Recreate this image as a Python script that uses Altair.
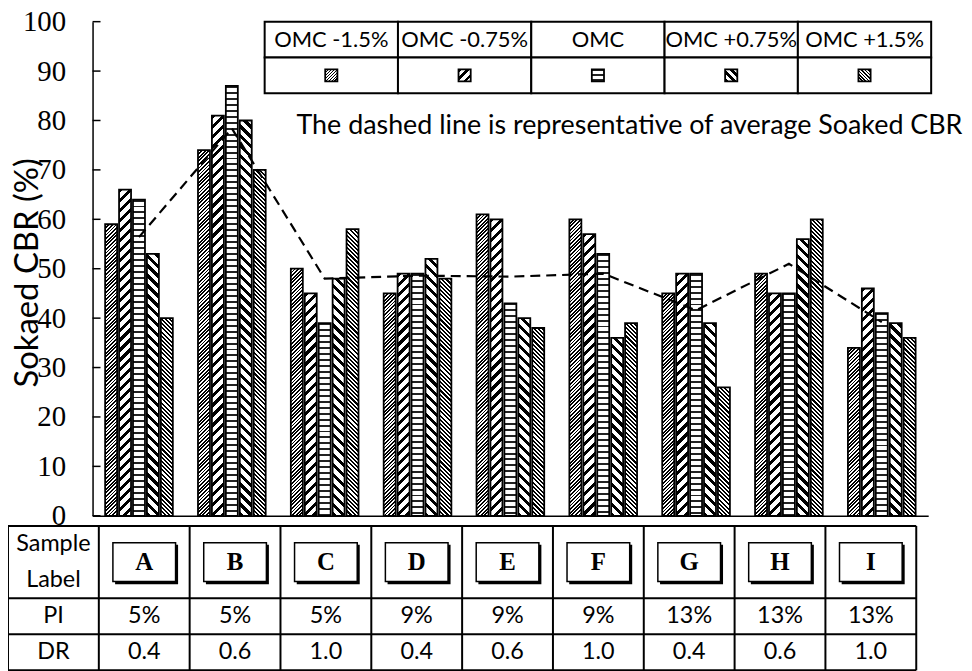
import altair as alt
import pandas as pd

# ---------------- data ----------------
samples = ["A", "B", "C", "D", "E", "F", "G", "H", "I"]
series = ["OMC -1.5%", "OMC -0.75%", "OMC", "OMC +0.75%", "OMC +1.5%"]
cbr_omc_m150 = [59, 74, 50, 45, 61, 60, 45, 49, 34]
cbr_omc_m075 = [66, 81, 45, 49, 60, 57, 49, 45, 46]
cbr_omc = [64, 87, 39, 49, 43, 53, 49, 45, 41]
cbr_omc_p075 = [53, 80, 48, 52, 40, 36, 39, 56, 39]
cbr_omc_p150 = [40, 70, 58, 48, 38, 39, 26, 60, 36]
pi_values = ["5%", "5%", "5%", "9%", "9%", "9%", "13%", "13%", "13%"]
dr_values = ["0.4", "0.6", "1.0", "0.4", "0.6", "1.0", "0.4", "0.6", "1.0"]
y_ticks = [0, 10, 20, 30, 40, 50, 60, 70, 80, 90, 100]
y_title = "Sokaed CBR (%)"
note_text = "The dashed line is representative of average Soaked CBR"
row_labels = ["Sample", "Label", "PI", "DR"]

series_values = [cbr_omc_m150, cbr_omc_m075, cbr_omc, cbr_omc_p075, cbr_omc_p150]
df = pd.DataFrame(
    [{"sample": s, "series": k, "cbr": v}
     for k, vals in zip(series, series_values) for s, v in zip(samples, vals)]
)

# ---------------- layout (pixels, relative to chart origin) ----------------
W, H = 925, 664
PLOT_X0, PLOT_X1 = 85, 925
Y_TOP, Y_BASE = 12, 508.7
TABLE_X0, TABLE_X1 = 0, 913
TABLE_Y0, TABLE_Y1 = 519, 664
LEG_X0, LEG_X1 = 258, 928
LEG_Y0, LEG_Y1 = 12, 84
PAD_IN, PAD_OUT = 0.25, 0.125
OFF_IN, OFF_OUT = 0.14, 0.07

step = (PLOT_X1 - PLOT_X0) / (len(samples) - PAD_IN + 2 * PAD_OUT)
group_w = step * (1 - PAD_IN)
off_step = group_w / (len(series) - OFF_IN + 2 * OFF_OUT)
BAR_W = off_step * (1 - OFF_IN)
PX_PER = (Y_BASE - Y_TOP) / 100.0

# hatch style per series: (direction, period px, ink fraction, ink colour)
patterns = {
    "OMC -1.5%": ("/", 3.6, 0.5, "black"),
    "OMC -0.75%": ("/", 10.0, 0.42, "black"),
    "OMC": ("=", 6.0, 0.33, "#222222"),
    "OMC +0.75%": ("\\", 10.0, 0.42, "black"),
    "OMC +1.5%": ("\\", 4.2, 0.5, "black"),
}


def hatch(direction, w, h, period, frac, ink):
    if direction in ("/", "\\"):
        k = h / w
        a = (1 + k) / (1 + k * k)
        n = (w + h) / period
        if direction == "/":
            x1, y1, x2, y2 = 0, 0, a, a * k
        else:
            x1, y1, x2, y2 = 0, 1, a, 1 - a * k
    else:
        x1, y1, x2, y2 = 0, 0, 0, 1
        n = h / period
    stops = []
    i = 0
    while i < n:
        t0 = round(i / n, 5)
        t1 = round(min((i + frac) / n, 1.0), 5)
        stops += [
            {"offset": t0, "color": "white"},
            {"offset": t0, "color": ink},
            {"offset": t1, "color": ink},
            {"offset": t1, "color": "white"},
        ]
        i += 1
    stops.append({"offset": 1, "color": "white"})
    return {"gradient": "linear", "x1": x1, "y1": y1, "x2": x2, "y2": y2, "stops": stops}


# ---------------- scales / axes ----------------
xs = alt.Scale(type="band", domain=samples, range=[PLOT_X0, PLOT_X1],
               paddingInner=PAD_IN, paddingOuter=PAD_OUT)
ys = alt.Scale(domain=[0, 100], range=[Y_BASE, Y_TOP], nice=False, zero=True)
x_axis = alt.Axis(orient="bottom", offset=-(H - Y_BASE), labels=False, ticks=False,
                  title=None, grid=False, domainColor="black", domainWidth=1.5)
y_axis = alt.Axis(orient="left", offset=-PLOT_X0, values=y_ticks, ticks=False, grid=False,
                  labelFont="Liberation Serif", labelFontSize=29, labelColor="black",
                  labelPadding=27, domainColor="black", domainWidth=1.5,
                  title=y_title, titleFont="Lato", titleFontSize=33, titleFontWeight="normal",
                  titleColor="black", titleX=-65, titleY=264, titleAngle=270,
                  titleAlign="center", titleBaseline="middle")
x_enc = alt.X("sample:N", scale=xs, axis=x_axis)
y_enc = alt.Y("cbr:Q", scale=ys, axis=y_axis)
xo_enc = alt.XOffset("series:N", scale=alt.Scale(domain=series, paddingInner=OFF_IN,
                                                  paddingOuter=OFF_OUT))

bar_layers = []
for k, vals in zip(series, series_values):
    d, per, fr, ink = patterns[k]
    for s, v in zip(samples, vals):
        g = hatch(d, BAR_W, v * PX_PER, per, fr, ink)
        bar_layers.append(
            alt.Chart(df)
            .transform_filter((alt.datum.series == k) & (alt.datum.sample == s))
            .mark_bar(fill=g, stroke="black", strokeWidth=1.8)
            .encode(x=x_enc, xOffset=xo_enc, y=y_enc)
        )

ticks = alt.Chart(pd.DataFrame({"cbr": y_ticks})).mark_tick(
    orient="horizontal", size=8, thickness=1.5, color="black", opacity=1
).encode(y=y_enc, x=alt.value(PLOT_X0 + 4))

avg_line = alt.Chart(df).mark_line(color="black", strokeWidth=2.2, strokeDash=[10, 6]).encode(
    x=x_enc, y=alt.Y("mean(cbr):Q", scale=ys, axis=y_axis)
)

plot = alt.layer(*bar_layers, ticks, avg_line)

# ---------------- legend table ----------------
lx = alt.Scale(type="band", domain=series, range=[LEG_X0, LEG_X1], paddingInner=0, paddingOuter=0)
ly = alt.Scale(type="band", domain=["hdr", "sym"], range=[LEG_Y0, LEG_Y1], paddingInner=0, paddingOuter=0)
leg_cells = pd.DataFrame([{"s": s, "r": r} for s in series for r in ["hdr", "sym"]])
leg_hdr = pd.DataFrame({"s": series, "r": ["hdr"] * len(series)})
leg_sym = pd.DataFrame({"s": series, "r": ["sym"] * len(series)})

cells = alt.Chart(leg_cells).mark_rect(fill="white", stroke="black", strokeWidth=2).encode(
    x=alt.X("s:N", scale=lx, axis=None), y=alt.Y("r:N", scale=ly, axis=None)
)
hdr_text = alt.Chart(leg_hdr).mark_text(font="Lato", fontSize=22, color="black").encode(
    x=alt.X("s:N", scale=lx, axis=None), y=alt.Y("r:N", scale=ly, axis=None), text="s:N"
)
sym_layers = []
for k in series:
    d, per, fr, ink = patterns[k]
    sym_layers.append(
        alt.Chart(leg_sym).transform_filter(alt.datum.s == k)
        .mark_square(size=150, fill=hatch(d, 12, 12, per * 0.8, fr, ink), stroke="black",
                     strokeWidth=1.8, opacity=1)
        .encode(x=alt.X("s:N", scale=lx, axis=None), y=alt.Y("r:N", scale=ly, axis=None))
    )
note = alt.Chart(pd.DataFrame({"t": [note_text]})).mark_text(
    font="Lato", fontSize=27, color="black", align="left", baseline="alphabetic"
).encode(text="t:N", x=alt.value(290), y=alt.value(125))

legend = alt.layer(cells, hdr_text, *sym_layers, note)

# ---------------- bottom table ----------------
cols = ["Label"] + samples
rows = ["L1", "L2", "PI", "DR"]
tx = alt.Scale(type="band", domain=cols, range=[TABLE_X0, TABLE_X1], paddingInner=0, paddingOuter=0)
ty = alt.Scale(type="band", domain=rows, range=[TABLE_Y0, TABLE_Y1], paddingInner=0, paddingOuter=0)

cols_df = pd.DataFrame({"col": cols})
vlines = alt.Chart(cols_df).mark_rule(color="black", strokeWidth=2).encode(
    x=alt.X("col:N", bandPosition=0, scale=tx, axis=None),
    y=alt.value(TABLE_Y0), y2=alt.value(TABLE_Y1),
)
vline_end = alt.Chart(cols_df).transform_filter(alt.datum.col == cols[-1]).mark_rule(
    color="black", strokeWidth=2
).encode(x=alt.X("col:N", bandPosition=1, scale=tx, axis=None),
         y=alt.value(TABLE_Y0), y2=alt.value(TABLE_Y1))

hrows_df = pd.DataFrame({"row": ["L1", "PI", "DR"]})
hlines = alt.Chart(hrows_df).mark_rule(color="black", strokeWidth=2).encode(
    y=alt.Y("row:N", bandPosition=0, scale=ty, axis=None),
    x=alt.value(TABLE_X0), x2=alt.value(TABLE_X1),
)
hline_end = alt.Chart(hrows_df).transform_filter(alt.datum.row == "DR").mark_rule(
    color="black", strokeWidth=2
).encode(y=alt.Y("row:N", bandPosition=1, scale=ty, axis=None),
         x=alt.value(TABLE_X0), x2=alt.value(TABLE_X1))

tbl_text_rows = [{"col": "Label", "row": r, "t": t} for r, t in zip(rows, row_labels)]
tbl_text_rows += [{"col": s, "row": "PI", "t": p} for s, p in zip(samples, pi_values)]
tbl_text_rows += [{"col": s, "row": "DR", "t": d} for s, d in zip(samples, dr_values)]
tbl_text = alt.Chart(pd.DataFrame(tbl_text_rows)).mark_text(
    font="Lato", fontSize=23.5, color="black"
).encode(x=alt.X("col:N", scale=tx, axis=None), y=alt.Y("row:N", scale=ty, axis=None), text="t:N")

box_df = pd.DataFrame({"col": samples, "row": ["L1"] * len(samples)})
box_shadow = alt.Chart(box_df).mark_point(
    shape="M-0.93,-0.55L1.08,-0.55L1.08,0.71L-0.93,0.71Z", size=3969, filled=True,
    fill="black", strokeWidth=0, opacity=1
).encode(x=alt.X("col:N", scale=tx, axis=None),
         y=alt.Y("row:N", bandPosition=1, scale=ty, axis=None))
box = alt.Chart(box_df).mark_point(
    shape="M-1,-0.62L1,-0.62L1,0.62L-1,0.62Z", size=3969, filled=True,
    fill="white", stroke="black", strokeWidth=1.5, opacity=1
).encode(x=alt.X("col:N", scale=tx, axis=None),
         y=alt.Y("row:N", bandPosition=1, scale=ty, axis=None))
box_text = alt.Chart(box_df).mark_text(
    font="Liberation Serif", fontSize=25, fontWeight="bold", color="black", baseline="middle"
).encode(x=alt.X("col:N", scale=tx, axis=None),
         y=alt.Y("row:N", bandPosition=1, scale=ty, axis=None), text="col:N")

table = alt.layer(vlines, vline_end, hlines, hline_end, tbl_text, box_shadow, box, box_text)

chart = (
    alt.layer(plot, legend, table)
    .resolve_scale(x="independent", y="independent")
    .properties(width=W, height=H, autosize=alt.AutoSizeParams(type="none"),
                padding={"left": 0, "top": 0, "right": 36, "bottom": 0})
    .configure_view(strokeWidth=0)
)

chart.save("out.html", embed_options={"renderer": "svg", "actions": False})
